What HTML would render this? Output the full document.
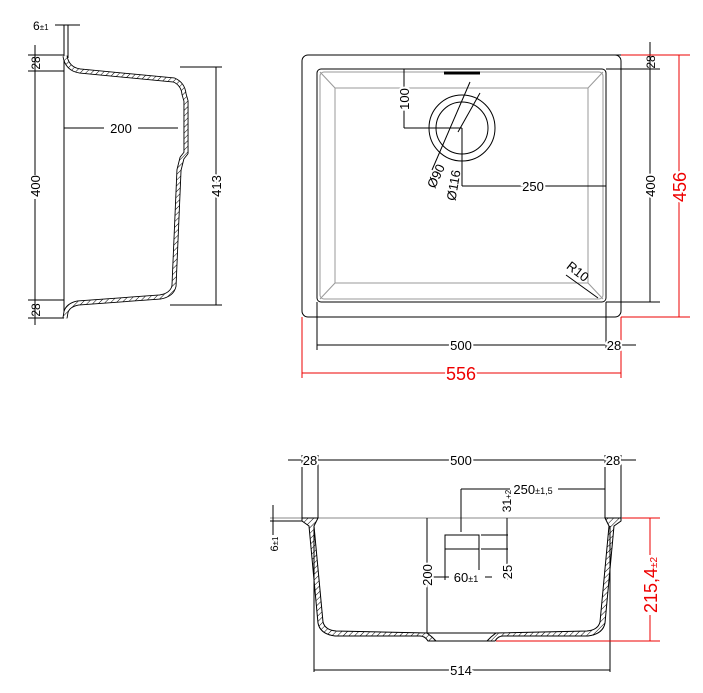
<!DOCTYPE html>
<html><head><meta charset="utf-8"><style>
html,body{margin:0;padding:0;background:#fff;}
svg{display:block}
text{font-family:"Liberation Sans",Arial,sans-serif;font-size:13px;fill:#000}
.r{fill:#e00}
</style></head><body>
<svg width="703" height="693" viewBox="0 0 703 693" xmlns="http://www.w3.org/2000/svg">
<defs>
<pattern id="h" width="4" height="4" patternUnits="userSpaceOnUse" patternTransform="rotate(45)"><rect width="4" height="4" fill="#fff"/><line x1="0" y1="0" x2="0" y2="4" stroke="#000" stroke-width="1"/></pattern>
</defs>
<g fill="none" stroke="#000" stroke-width="1">
<!-- ===== Side view (left) ===== -->
<line x1="64" y1="55" x2="64" y2="318"/>
<line x1="64" y1="25" x2="64" y2="55"/><line x1="68" y1="25" x2="68" y2="58"/>
<line x1="55" y1="25" x2="80" y2="25"/>
<g stroke-linejoin="round">
<path id="sw" d="M65,56 Q67,69 80,71 L174,80 Q183,84 184,94 L186,101 L186,153 L182,158 L179,170 L174,286 Q172,295 160,297 L78,303 Q68,305 66,312 L65,318" stroke-width="5"/>
<path d="M65,56 Q67,69 80,71 L174,80 Q183,84 184,94 L186,101 L186,153 L182,158 L179,170 L174,286 Q172,295 160,297 L78,303 Q68,305 66,312 L65,318" stroke="url(#h)" stroke-width="3.2"/>
</g>
<line x1="28" y1="55" x2="64" y2="55"/><line x1="28" y1="71" x2="64" y2="71"/>
<line x1="28" y1="300" x2="64" y2="300"/><line x1="28" y1="318" x2="64" y2="318"/>
<line x1="35" y1="45" x2="35" y2="325"/>
<line x1="180" y1="67" x2="222" y2="67"/><line x1="170" y1="305" x2="222" y2="305"/>
<line x1="216" y1="67" x2="216" y2="305"/>
<line x1="64" y1="128" x2="178" y2="128"/>
<!-- ===== Top view ===== -->
<rect x="302" y="55" width="319" height="262" rx="6"/>
<rect x="317" y="69" width="289" height="233" rx="4"/>
<rect x="320" y="72" width="283" height="227" rx="4" stroke="#999"/>
<rect x="335" y="88" width="253" height="195" stroke="#999"/>
<line x1="320" y1="72" x2="335" y2="88" stroke="#999"/><line x1="603" y1="72" x2="588" y2="88" stroke="#999"/>
<line x1="320" y1="299" x2="335" y2="283" stroke="#999"/><line x1="603" y1="299" x2="588" y2="283" stroke="#999"/>
<line x1="444" y1="73" x2="480" y2="73" stroke-width="3"/>
<circle cx="462" cy="128" r="33"/><circle cx="462" cy="128" r="26"/>
<line x1="404" y1="69" x2="404" y2="128"/><line x1="404" y1="128" x2="462" y2="128"/>
<line x1="470" y1="82" x2="432" y2="170"/><line x1="480" y1="93" x2="458" y2="132"/><line x1="462" y1="128" x2="462" y2="186"/>
<line x1="462" y1="186" x2="606" y2="186"/>
<line x1="606" y1="55" x2="660" y2="55"/><line x1="606" y1="69" x2="660" y2="69"/><line x1="606" y1="302" x2="660" y2="302"/>
<line x1="650" y1="42" x2="650" y2="302"/>
<line x1="317" y1="302" x2="317" y2="350"/><line x1="606" y1="302" x2="606" y2="350"/>
<line x1="317" y1="345" x2="636" y2="345"/>
<line x1="566" y1="275" x2="598" y2="298"/>
<!-- ===== Front section ===== -->
<line x1="270" y1="518" x2="622" y2="518" stroke="#888"/>
<line x1="270" y1="521" x2="302" y2="521"/>
<line x1="302" y1="455" x2="302" y2="518"/><line x1="318" y1="455" x2="318" y2="518"/>
<line x1="605" y1="455" x2="605" y2="518"/><line x1="621" y1="455" x2="621" y2="518"/>
<line x1="288" y1="460" x2="636" y2="460"/>
<path d="M302,518 L318,518 L314,526 L323,622 Q325,630 336,631 L427,633 L432,637 L436,641 L428,641 Q425,636 420,636 L335,636 Q320,634 318,623 L309,526 L302,521 Z" fill="url(#h)"/>
<path d="M621,518 L605,518 L609,526 L600,622 Q598,630 587,631 L496,633 L491,637 L487,641 L495,641 Q498,636 503,636 L588,636 Q603,634 605,623 L614,526 L621,521 Z" fill="url(#h)"/>
<line x1="436" y1="641" x2="487" y2="641"/>
<line x1="427" y1="633" x2="496" y2="633"/>
<line x1="314" y1="526" x2="314" y2="672"/><line x1="610" y1="526" x2="610" y2="672"/>
<line x1="314" y1="670" x2="610" y2="670"/>
<line x1="461" y1="489" x2="461" y2="532"/><line x1="461" y1="489" x2="605" y2="489"/>
<rect x="445" y="535" width="34" height="14"/>
<line x1="481" y1="535" x2="508" y2="535"/><line x1="481" y1="549" x2="508" y2="549"/>
<line x1="507" y1="518" x2="507" y2="580"/>
<line x1="427" y1="518" x2="427" y2="633"/>
<line x1="445" y1="549" x2="445" y2="580"/><line x1="479" y1="549" x2="479" y2="580"/>
<line x1="432" y1="577" x2="492" y2="577"/>
<line x1="273" y1="505" x2="273" y2="535"/>
</g>
<g fill="none" stroke="#e00" stroke-width="1">
<line x1="621" y1="55" x2="690" y2="55"/><line x1="621" y1="317" x2="690" y2="317"/>
<line x1="679" y1="55" x2="679" y2="317"/>
<line x1="302" y1="317" x2="302" y2="378"/><line x1="621" y1="317" x2="621" y2="378"/>
<line x1="302" y1="373" x2="621" y2="373"/>
<line x1="622" y1="518" x2="660" y2="518"/><line x1="496" y1="641" x2="660" y2="641"/>
<line x1="650" y1="518" x2="650" y2="641"/>
</g>
<!-- white masks behind labels -->
<g fill="#fff">
<rect x="104" y="121" width="34" height="14"/>
<rect x="510" y="481" width="48" height="14"/>
<rect x="500" y="495" width="14" height="20"/>
<rect x="449" y="570" width="36" height="14"/>
<rect x="643" y="555" width="16" height="60"/>
<rect x="30" y="175" width="10" height="24"/>
</g>
<text x="33" y="30" style="font-size:12px">6<tspan font-size="8">±1</tspan></text>
<g text-anchor="middle">
<text transform="translate(40,63) rotate(-90)" style="font-size:12px">28</text>
<text transform="translate(40,186) rotate(-90)">400</text>
<text transform="translate(40,310) rotate(-90)" style="font-size:12px">28</text>
<text transform="translate(221,186) rotate(-90)" stroke="#fff" stroke-width="4" paint-order="stroke">413</text>
<text x="121" y="133">200</text>
<text transform="translate(409,99) rotate(-90)" stroke="#fff" stroke-width="4" paint-order="stroke">100</text>
<text x="533" y="191" stroke="#fff" stroke-width="4" paint-order="stroke">250</text>
<text transform="translate(440,178) rotate(-65)">Ø90</text>
<text transform="translate(458,186) rotate(-80)">Ø116</text>
<text transform="translate(575,275) rotate(38)">R10</text>
<text transform="translate(655,62) rotate(-90)" style="font-size:12px">28</text>
<text transform="translate(655,186) rotate(-90)" stroke="#fff" stroke-width="4" paint-order="stroke">400</text>
<text transform="translate(686,187) rotate(-90)" class="r" style="font-size:18px" stroke="#fff" stroke-width="4" paint-order="stroke">456</text>
<text x="461" y="350" stroke="#fff" stroke-width="4" paint-order="stroke">500</text>
<text x="614" y="350" stroke="#fff" stroke-width="4" paint-order="stroke">28</text>
<text x="461" y="380" class="r" style="font-size:18px" stroke="#fff" stroke-width="4" paint-order="stroke">556</text>
<text x="310" y="465" stroke="#fff" stroke-width="4" paint-order="stroke">28</text>
<text x="461" y="465" stroke="#fff" stroke-width="4" paint-order="stroke">500</text>
<text x="613" y="465" stroke="#fff" stroke-width="4" paint-order="stroke">28</text>
<text x="533" y="494">250<tspan font-size="9">±1,5</tspan></text>
<text transform="translate(511,501) rotate(-90)" style="font-size:12px">31<tspan font-size="8">+2</tspan></text>
<text transform="translate(432,575) rotate(-90)" stroke="#fff" stroke-width="4" paint-order="stroke">200</text>
<text x="466" y="582">60<tspan font-size="9">±1</tspan></text>
<text transform="translate(512,572) rotate(-90)" stroke="#fff" stroke-width="4" paint-order="stroke">25</text>
<text transform="translate(278,544) rotate(-90)" style="font-size:11px">6<tspan font-size="8">±1</tspan></text>
<text transform="translate(657,585) rotate(-90)" class="r" style="font-size:18px">215,4<tspan font-size="10">±2</tspan></text>
<text x="461" y="675" stroke="#fff" stroke-width="4" paint-order="stroke">514</text>
</g>
</svg>
</body></html>
